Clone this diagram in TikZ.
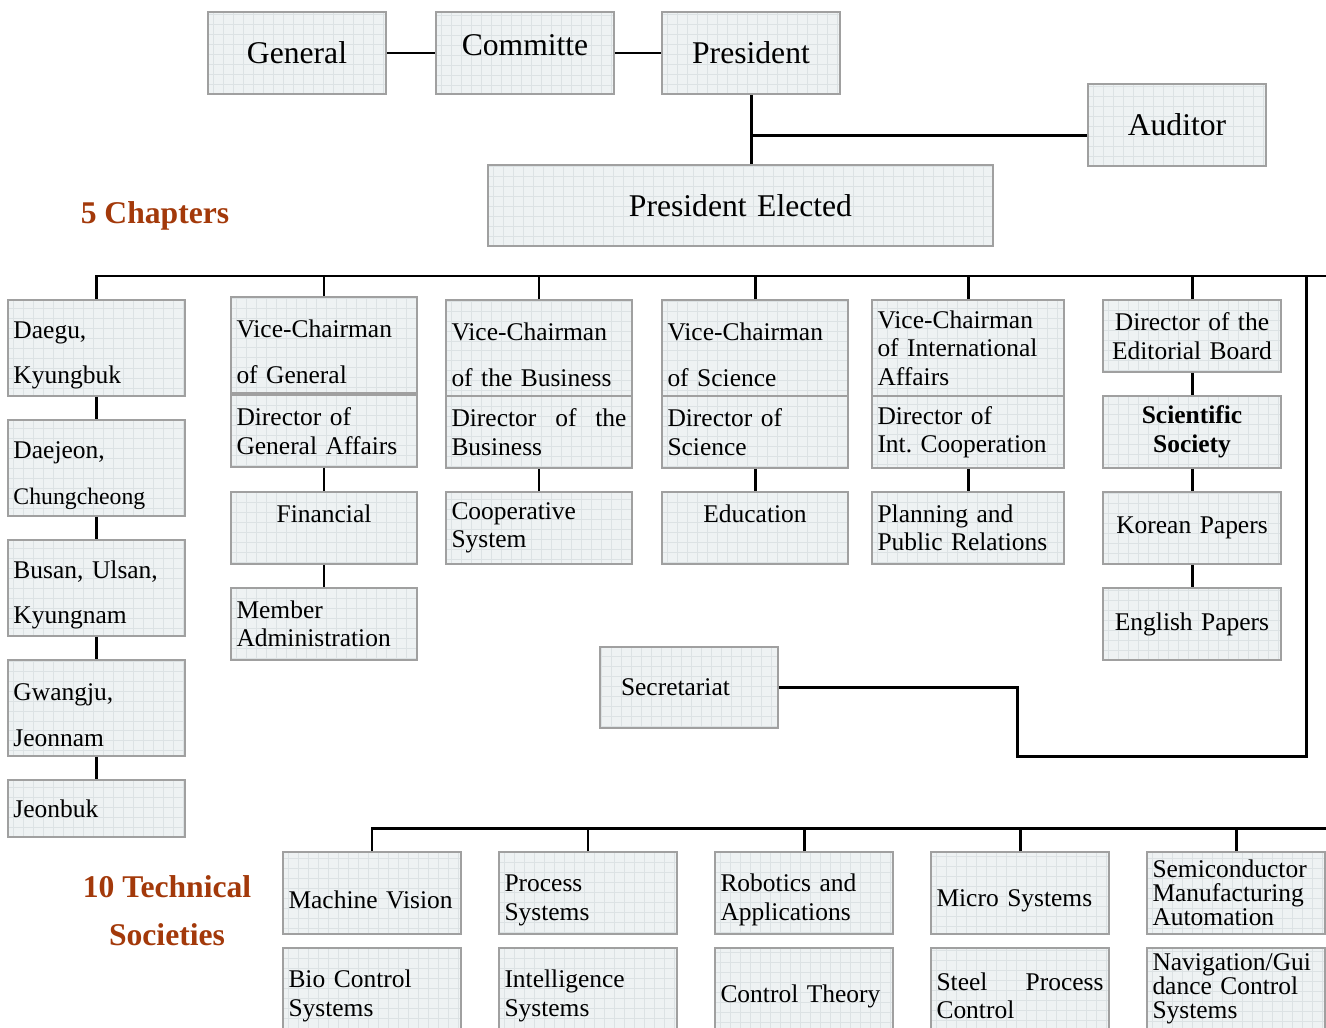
\documentclass[tikz,border=0pt]{standalone}
\usepackage{fontspec}
\setmainfont{Liberation Serif}
\definecolor{boxfill}{RGB}{238,242,243}
\definecolor{gridline}{RGB}{220,226,228}
\definecolor{boxline}{RGB}{160,160,160}
\definecolor{titlebrown}{RGB}{163,57,10}
\newcommand{\px}{0.02cm}
\newcommand{\orgbox}[6][]{%
  \pgfmathsetlengthmacro\boxw{#4*\px}%
  \pgfmathsetlengthmacro\boxh{#5*\px}%
  \pgfmathsetlengthmacro\boxtw{(#4-11)*\px}%
  \node[box,minimum width=\boxw,minimum height=\boxh,text width=\boxtw,#1] (#2) at (#3) {#6};}
\tikzset{
  box/.style={draw=boxline,line width=1.1pt,fill=boxfill,inner xsep=2pt,inner ysep=1.5pt,
    align=left,font=\fontsize{14.5}{16.2}\selectfont,
    path picture={\draw[gridline,line width=0.3pt] (path picture bounding box.south west)
      grid[step=0.2cm] (path picture bounding box.north east);}},
  big/.style={font=\fontsize{18}{22}\selectfont,align=center},
  spread/.style={font=\fontsize{14.5}{26.1}\selectfont,text height=18pt},
  low/.style={text height=18pt},
  packed/.style={font=\fontsize{14.5}{13.6}\selectfont},
  heading/.style={text=titlebrown,align=center,font=\fontsize{18}{27.2}\selectfont\bfseries},
  link/.style={line width=1.7pt,black}
}

\begin{document}
\begin{tikzpicture}[x=\px,y=-\px]
\path[fill=white,use as bounding box] (0,0) rectangle (1326,1028);
\clip (0,0) rectangle (1326,1028);

\orgbox[big]{general}{297,53}{178}{82}{General}
\orgbox[big,text depth=9pt]{committee}{525,53}{178}{82}{Committe}
\orgbox[big]{president}{751,53}{178}{82}{President}
\orgbox[big]{auditor}{1177,125}{178}{82}{Auditor}
\orgbox[big]{elected}{740.5,205.5}{505}{81}{President Elected}

\node[heading] (chapters) at (155,216) {5 Chapters};
\node[heading] (societies) at (167,911) {10 Technical\\Societies};

\orgbox[spread]{daegu}{96.5,348}{177}{96}{Daegu,\\Kyungbuk}
\orgbox[spread]{daejeon}{96.5,468}{177}{96}{Daejeon,\\{\fontsize{13.5}{26.1}\selectfont Chungcheong}}
\orgbox[spread]{busan}{96.5,588}{177}{96}{Busan, Ulsan,\\Kyungnam}
\orgbox[spread]{gwangju}{96.5,708}{177}{96}{Gwangju,\\Jeonnam}
\orgbox{jeonbuk}{96.5,808.5}{177}{57}{Jeonbuk}

\orgbox[spread]{vcgen}{324,345}{186}{96}{Vice-Chairman\\of General}
\orgbox{dirgen}{324,431}{186}{72}{Director of\\General Affairs}
\orgbox[align=center]{financial}{324,528}{186}{72}{Financial\\\mbox{}}
\orgbox{member}{324,624}{186}{72}{Member\\Administration}

\orgbox[spread]{vcbus}{539,348}{186}{96}{Vice-Chairman\\of the Business}
\orgbox{dirbus}{539,432}{186}{72}{Director\hfill of\hfill the\\Business}
\orgbox{coop}{539,528}{186}{72}{Cooperative\\System}

\orgbox[spread]{vcsci}{755,348}{186}{96}{Vice-Chairman\\of Science}
\orgbox{dirsci}{755,432}{186}{72}{Director of\\Science}
\orgbox[align=center]{education}{755,528}{186}{72}{Education\\\mbox{}}

\orgbox{vcint}{968,348}{192}{96}{Vice-Chairman\\of International\\Affairs}
\orgbox{dirint}{968,432}{192}{72}{Director of\\Int.\ Cooperation}
\orgbox{planning}{968,528}{192}{72}{Planning and\\Public Relations}

\orgbox[align=center]{editorial}{1192,336}{178}{72}{Director of the\\Editorial Board}
\orgbox[align=center,font=\fontsize{14.5}{16.2}\selectfont\bfseries]{scisoc}{1192,432}{178}{72}{Scientific\\Society}
\orgbox[align=center]{korean}{1192,528}{178}{72}{Korean Papers}
\orgbox[align=center]{english}{1192,624}{178}{72}{English Papers}

\orgbox[text width=2.72cm]{secretariat}{689,687.5}{178}{81}{Secretariat}

\orgbox[low]{vision}{372,893}{178}{82}{Machine Vision}
\orgbox[low]{process}{588,893}{178}{82}{Process\\Systems}
\orgbox[low]{robotics}{804,893}{178}{82}{Robotics and\\Applications}
\orgbox[low]{micro}{1020,893}{178}{82}{Micro Systems}
\orgbox[packed]{semi}{1236,893}{178}{82}{Semiconductor\\Manufacturing\\Automation}
\orgbox[low]{bio}{372,989}{178}{82}{Bio Control\\Systems}
\orgbox[low]{intel}{588,989}{178}{82}{Intelligence\\Systems}
\orgbox[low]{theory}{804,989}{178}{82}{Control Theory}
\orgbox[low]{steel}{1020,989}{178}{82}{Steel\hfill Process\\Control}
\orgbox[packed]{navi}{1236,989}{178}{82}{Navigation/Gui\\dance Control\\Systems}

\coordinate (chapbus) at (1326,276);
\coordinate (bend) at (1017,756);
\coordinate (rise) at (1306,276);
\coordinate (techbus) at (1326,828);
\coordinate (audjoin) at ([yshift=-6pt]auditor.west);

\draw[link] (general.east) -- (committee.west);
\draw[link] (committee.east) -- (president.west);
\draw[link] (president.south) -- (president.south |- elected.north);
\draw[link] (audjoin) -- (audjoin -| president.south);

\draw[link] (daegu.north) |- (chapbus);
\foreach \n in {vcgen,vcbus,vcsci,vcint,editorial}
  \draw[link] (\n.north) -- (\n.north |- chapbus);
\foreach \a/\b in {daegu/daejeon,daejeon/busan,busan/gwangju,gwangju/jeonbuk,
    dirgen/financial,financial/member,dirbus/coop,dirsci/education,dirint/planning,
    editorial/scisoc,scisoc/korean,korean/english}
  \draw[link] (\a.south) -- (\b.north);
\draw[link] (secretariat.east) -| (bend) -| (rise);

\draw[link] (vision.north) |- (techbus);
\foreach \n in {process,robotics,micro,semi}
  \draw[link] (\n.north) -- (\n.north |- techbus);
\end{tikzpicture}
\end{document}
